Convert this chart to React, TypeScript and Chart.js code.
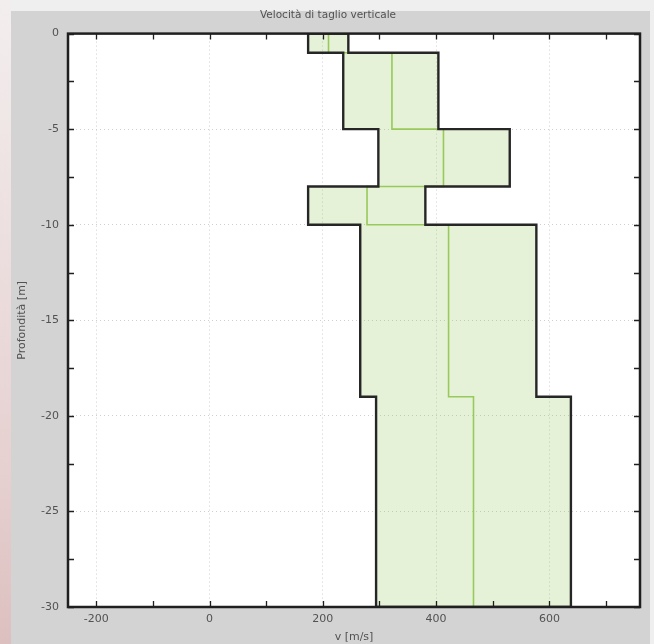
import React, { useEffect, useRef } from 'react';
import { Chart, registerables } from 'chart.js';

Chart.register(...registerables);

// Layer boundaries (depth, m)
const layerTop = [0, -1, -5, -8, -10, -19];
const layerBottom = [-1, -5, -8, -10, -19, -30];
// Shear-wave velocity per layer (m/s)
const vsMin = [174, 236, 298, 174, 266, 294];
const vsMean = [210, 322, 413, 278, 422, 466];
const vsMax = [245, 404, 530, 381, 577, 638];
// Axes
const xTickValues = [-200, 0, 200, 400, 600];
const yTickValues = [0, -5, -10, -15, -20, -25, -30];
const xMinorTickValues = [-200, -100, 0, 100, 200, 300, 400, 500, 600, 700];
const yMinorTickValues = [0, -2.5, -5, -7.5, -10, -12.5, -15, -17.5, -20, -22.5, -25, -27.5, -30];
const xRange = [-250, 760];
const yRange = [-30, 0];

const FONT = "'DejaVu Sans', sans-serif";
const TEXT = '#525252';

function stepProfile(values: number[]) {
  const pts: { x: number; y: number }[] = [];
  values.forEach((v, i) => {
    pts.push({ x: v, y: layerTop[i] });
    pts.push({ x: v, y: layerBottom[i] });
  });
  return pts;
}

const areaBgPlugin = {
  id: 'areaBg',
  beforeDraw(chart: any) {
    const { ctx, chartArea: a } = chart;
    ctx.save();
    ctx.fillStyle = '#ffffff';
    ctx.fillRect(a.left, a.top, a.right - a.left, a.bottom - a.top);
    ctx.restore();
  },
};

const framePlugin = {
  id: 'frameTicks',
  afterDatasetsDraw(chart: any) {
    const { ctx, chartArea: a, scales } = chart;
    const x = scales.x;
    const y = scales.y;
    const L = 6;
    ctx.save();
    ctx.strokeStyle = '#1f1f1f';
    ctx.lineWidth = 1.3;
    ctx.beginPath();
    xMinorTickValues.forEach((v) => {
      const px = Math.round(x.getPixelForValue(v)) + 0.5;
      ctx.moveTo(px, a.top);
      ctx.lineTo(px, a.top + L);
      ctx.moveTo(px, a.bottom);
      ctx.lineTo(px, a.bottom - L);
    });
    yMinorTickValues.forEach((v) => {
      const py = Math.round(y.getPixelForValue(v)) + 0.5;
      ctx.moveTo(a.left, py);
      ctx.lineTo(a.left + L, py);
      ctx.moveTo(a.right, py);
      ctx.lineTo(a.right - L, py);
    });
    ctx.stroke();
    ctx.lineWidth = 2.5;
    ctx.strokeRect(a.left, a.top, a.right - a.left, a.bottom - a.top);
    ctx.restore();
  },
};

export default function App() {
  const ref = useRef<HTMLCanvasElement | null>(null);

  useEffect(() => {
    if (!ref.current) return;
    const minPts = stepProfile(vsMin);
    const maxPts = stepProfile(vsMax).reverse();
    const polygon = [...minPts, ...maxPts, minPts[0]];
    const meanPts = stepProfile(vsMean);

    const chart = new Chart(ref.current, {
      type: 'scatter',
      data: {
        datasets: [
          {
            label: 'outline',
            data: polygon,
            showLine: true,
            borderColor: '#262626',
            borderWidth: 2.4,
            pointRadius: 0,
            fill: false,
          },
          {
            label: 'media',
            data: meanPts,
            showLine: true,
            borderColor: '#98c95a',
            borderWidth: 1.6,
            pointRadius: 0,
            fill: false,
          },
          {
            label: 'area',
            data: polygon,
            showLine: true,
            borderWidth: 0,
            borderColor: 'rgba(0,0,0,0)',
            backgroundColor: 'rgba(150, 205, 100, 0.25)',
            pointRadius: 0,
            fill: 'shape',
          },
        ],
      },
      options: {
        animation: false,
        responsive: false,
        maintainAspectRatio: false,
        layout: { padding: { left: 16, right: 14, top: 0, bottom: 0 } },
        plugins: {
          legend: { display: false },
          tooltip: { enabled: false },
          title: {
            display: true,
            text: 'Velocità di taglio verticale',
            color: TEXT,
            font: { family: FONT, size: 10.5, weight: 'normal' },
            padding: { top: 9, bottom: 12 },
          },
        },
        scales: {
          x: {
            type: 'linear',
            min: xRange[0],
            max: xRange[1],
            afterBuildTicks: (s: any) => {
              s.ticks = xTickValues.map((v) => ({ value: v }));
            },
            afterFit: (s: any) => {
              s.height = 37;
            },
            grid: { color: '#cfcfcf', lineWidth: 1, drawTicks: false },
            border: { display: false, dash: [1, 3] },
            ticks: { color: TEXT, font: { family: FONT, size: 11 }, padding: 6, maxRotation: 0 },
            title: {
              display: true,
              text: 'v [m/s]',
              color: TEXT,
              font: { family: FONT, size: 11 },
              padding: { top: 0, bottom: 0 },
            },
          },
          y: {
            type: 'linear',
            min: yRange[0],
            max: yRange[1],
            afterBuildTicks: (s: any) => {
              s.ticks = yTickValues.map((v) => ({ value: v }));
            },
            afterFit: (s: any) => {
              s.width = 52;
            },
            grid: { color: '#cfcfcf', lineWidth: 1, drawTicks: false },
            border: { display: false, dash: [1, 3] },
            ticks: { color: TEXT, font: { family: FONT, size: 11 }, padding: 9 },
            title: {
              display: true,
              text: 'Profondità [m]',
              color: TEXT,
              font: { family: FONT, size: 11 },
              padding: { top: 0, bottom: 0 },
            },
          },
        },
      },
      plugins: [areaBgPlugin, framePlugin],
    } as any);
    return () => chart.destroy();
  }, []);

  return (
    <div style={{ position: 'fixed', left: 0, top: 0, width: 654, height: 644, overflow: 'hidden', background: '#efefef' }}>
      <div
        style={{
          position: 'absolute',
          left: 0,
          top: 0,
          width: 11,
          height: 644,
          background: 'linear-gradient(180deg, #f3eeee 0%, #ecdede 40%, #e6cfcf 75%, #dcc0bf 100%)',
        }}
      />
      <div style={{ position: 'absolute', left: 11, top: 11, width: 639, height: 633, background: '#d3d3d3' }} />
      <canvas
        ref={ref}
        width={654}
        height={644}
        style={{ position: 'absolute', left: 0, top: 0, width: 654, height: 644 }}
      />
    </div>
  );
}
